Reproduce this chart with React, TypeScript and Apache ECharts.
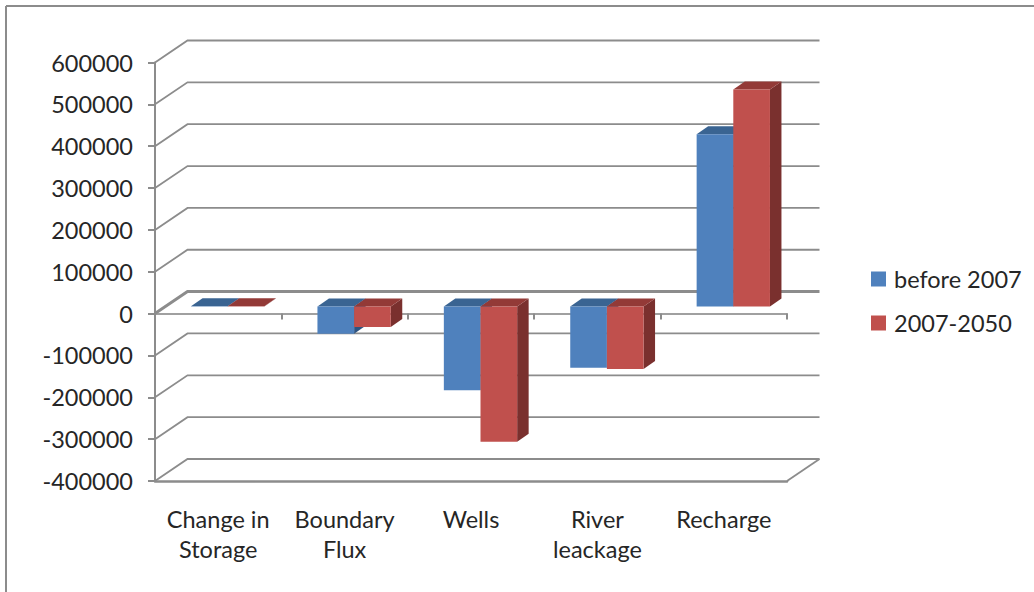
import React, { useEffect, useRef } from "react";
import * as echarts from "echarts";

// Water balance terms, one value per category and period
const categories = ["Change in\nStorage", "Boundary\nFlux", "Wells", "River\nleackage", "Recharge"];
const beforeValues = [800, -65000, -200000, -146000, 412000];
const laterValues = [600, -49000, -323000, -149000, 519000];
const wallTicks = [-400000, -300000, -200000, -100000, 0, 100000, 200000, 300000, 400000, 500000, 600000];

const AXIS_GREY = "#8c8c8c";
const TEXT = "#262626";
const FONT = "Lato";
const FONT_SIZE = 23.5;

// Oblique projection: how far the back wall and the bar depth are pushed
const WALL_DX = 32.5;
const WALL_DY = 22;
const BAR_SHIFT_X = 9.5;
const BAR_SHIFT_Y = 7;
const BAR_DEPTH_X = 11.5;
const BAR_DEPTH_Y = 8;
const BAR_RATIO = 0.29;

type Faces = { front: string; top: string; side: string };
const blueFaces: Faces = { front: "#4F81BD", top: "#3A6492", side: "#2F5480" };
const redFaces: Faces = { front: "#C0504D", top: "#933A37", side: "#7A302E" };

// Extruded bar: front rectangle plus top and side parallelograms
function barRenderer(faces: Faces, slot: number) {
  return (_params: any, api: any) => {
    const cat = api.value(0);
    const value = api.value(1);
    const base = api.coord([cat, 0]);
    const end = api.coord([cat, value]);
    const width = api.size([1, 0])[0] * BAR_RATIO;
    const x = base[0] + BAR_SHIFT_X + slot * width;
    const y0 = base[1] - BAR_SHIFT_Y;
    const yv = end[1] - BAR_SHIFT_Y;
    const yTop = Math.min(y0, yv);
    const yBottom = Math.max(y0, yv);
    const dx = BAR_DEPTH_X;
    const dy = BAR_DEPTH_Y;
    return {
      type: "group",
      children: [
        {
          type: "polygon",
          shape: { points: [[x + width, yTop], [x + width + dx, yTop - dy], [x + width + dx, yBottom - dy], [x + width, yBottom]] },
          style: { fill: faces.side },
        },
        {
          type: "polygon",
          shape: { points: [[x, yTop], [x + width, yTop], [x + width + dx, yTop - dy], [x + dx, yTop - dy]] },
          style: { fill: faces.top },
        },
        {
          type: "rect",
          shape: { x, y: yTop, width, height: yBottom - yTop },
          style: { fill: faces.front },
        },
      ],
    };
  };
}

// Back wall gridline with its diagonal along the left side wall
function wallRenderer(params: any, api: any) {
  const tick = api.value(1);
  const sys = params.coordSys;
  const y = api.coord([0, tick])[1];
  const left = sys.x;
  const right = sys.x + sys.width;
  const children: any[] = [
    {
      type: "polyline",
      shape: { points: [[left, y], [left + WALL_DX, y - WALL_DY], [right + WALL_DX, y - WALL_DY]] },
      style: { fill: "none", stroke: AXIS_GREY, lineWidth: tick === 0 ? 3 : 1.8 },
    },
  ];
  if (tick === wallTicks[0]) {
    children.push({
      type: "line",
      shape: { x1: right, y1: y, x2: right + WALL_DX, y2: y - WALL_DY },
      style: { stroke: AXIS_GREY, lineWidth: 1.8 },
    });
  }
  return { type: "group", children };
}

export default function App() {
  const ref = useRef<HTMLDivElement>(null);

  useEffect(() => {
    const chart = echarts.init(ref.current!, undefined, { renderer: "svg" });
    chart.setOption({
      animation: false,
      backgroundColor: "#ffffff",
      textStyle: { fontFamily: FONT },
      grid: { left: 155, right: 247, top: 62.5, bottom: 111 },
      legend: {
        orient: "vertical",
        left: 866,
        top: 262,
        itemWidth: 15,
        itemHeight: 15,
        itemGap: 20,
        icon: "rect",
        data: ["before 2007", "2007-2050"],
        textStyle: { fontFamily: FONT, fontSize: FONT_SIZE, color: TEXT, padding: [0, 0, 0, 3] },
      },
      xAxis: [
        {
          type: "category",
          data: categories,
          position: "bottom",
          axisLine: { onZero: false, lineStyle: { color: AXIS_GREY, width: 2.5 } },
          axisTick: { show: false },
          axisLabel: { fontFamily: FONT, fontSize: FONT_SIZE, color: TEXT, lineHeight: 30, margin: 23, interval: 0 },
        },
        {
          type: "category",
          data: categories,
          position: "bottom",
          axisLine: { onZero: true, lineStyle: { color: "#a0a0a0", width: 2 } },
          axisTick: { show: true, length: 6, lineStyle: { color: AXIS_GREY, width: 2 } },
          axisLabel: { show: false },
        },
      ],
      yAxis: {
        type: "value",
        min: -400000,
        max: 600000,
        interval: 100000,
        axisLine: { show: true, lineStyle: { color: AXIS_GREY, width: 2 } },
        axisTick: { show: true, length: 7, lineStyle: { color: AXIS_GREY, width: 2 } },
        splitLine: { show: false },
        axisLabel: { fontFamily: FONT, fontSize: FONT_SIZE, color: TEXT, margin: 22, formatter: (v: number) => String(v) },
      },
      graphic: [
        { type: "line", shape: { x1: 6, y1: 6, x2: 1034, y2: 6 }, style: { stroke: AXIS_GREY, lineWidth: 2 } },
        { type: "line", shape: { x1: 6, y1: 6, x2: 6, y2: 592 }, style: { stroke: AXIS_GREY, lineWidth: 2 } },
      ],
      series: [
        {
          type: "custom",
          name: "walls",
          silent: true,
          clip: false,
          z: 1,
          xAxisIndex: 0,
          renderItem: wallRenderer,
          encode: { x: 0, y: 1 },
          data: wallTicks.map((t) => [0, t]),
        },
        {
          type: "custom",
          name: "before 2007",
          clip: false,
          z: 3,
          xAxisIndex: 0,
          itemStyle: { color: blueFaces.front },
          renderItem: barRenderer(blueFaces, -1),
          encode: { x: 0, y: 1 },
          data: beforeValues.map((v, i) => [i, v]),
        },
        {
          type: "custom",
          name: "2007-2050",
          clip: false,
          z: 4,
          xAxisIndex: 0,
          itemStyle: { color: redFaces.front },
          renderItem: barRenderer(redFaces, 0),
          encode: { x: 0, y: 1 },
          data: laterValues.map((v, i) => [i, v]),
        },
      ],
    });
    return () => chart.dispose();
  }, []);

  return <div ref={ref} style={{ position: "absolute", left: 0, top: 0, width: 1034, height: 592 }} />;
}
